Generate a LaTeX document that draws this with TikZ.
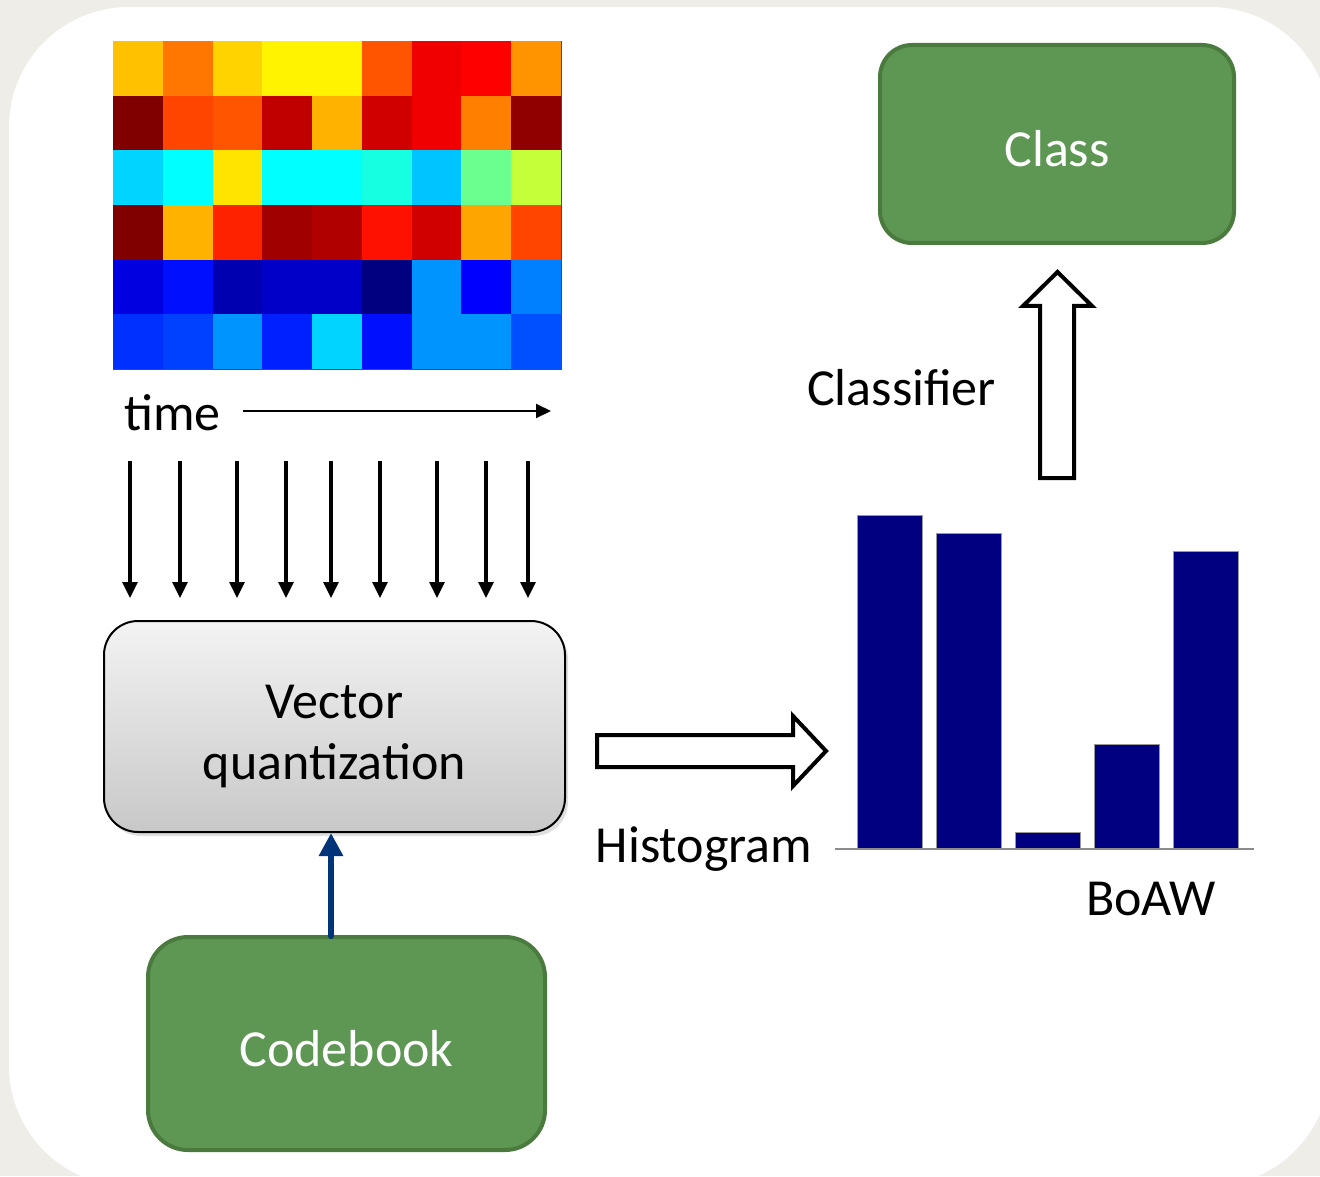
\documentclass[tikz,border=0pt]{standalone}
\usepackage{fontspec}
\setmainfont{Carlito}
\usetikzlibrary{arrows.meta,shadows}
\definecolor{bgc}{HTML}{EFEDE7}
\definecolor{boxgreen}{HTML}{5E9654}
\definecolor{boxedge}{HTML}{4A7A3E}
\definecolor{vqtop}{HTML}{F3F3F3}
\definecolor{vqbot}{HTML}{C8C8C8}
\definecolor{navybar}{HTML}{000080}
\definecolor{arrowblue}{HTML}{003478}
\begin{document}
\begin{tikzpicture}[x=0.5pt,y=-0.5pt, font=\fontsize{26}{30.5}\selectfont,
  greenbox/.style={draw=boxedge, fill=boxgreen, line width=2pt, rounded corners=16pt, text=white, text height=22.8pt, text depth=0pt, inner sep=0pt},
  downarr/.style={line width=1.6pt, -{Triangle[length=8pt,width=7.5pt]}},
  hollow/.style={draw=black, fill=white, line width=2pt, line join=miter},
  histbar/.style={fill=navybar, draw=gray!80, line width=0.4pt}]
\useasboundingbox (0,0) rectangle (1320,1176);
\fill[bgc] (0,0) rectangle (1320,1176);
\fill[white, rounded corners=60pt] (9,7) rectangle (1330,1186);

% heat map
\foreach \hx [count=\i from 0] in {FFC100,FF7600,FFD300,FFF300,FFF300,FF5400,F00000,FF0000,FF9400}
  {\definecolor{cell}{HTML}{\hx}\fill[cell] ({113+\i*49.78},41) rectangle ++(50.2,55.1);}
\foreach \hx [count=\i from 0] in {800000,FF4500,FF5500,C00000,FFB300,D00000,F00000,FF8000,900000}
  {\definecolor{cell}{HTML}{\hx}\fill[cell] ({113+\i*49.78},95.67) rectangle ++(50.2,55.1);}
\foreach \hx [count=\i from 0] in {00D4FF,00FFFF,FFE400,00FFFF,00FFFF,16FFE0,00C4FF,6AFF8E,C4FF3A}
  {\definecolor{cell}{HTML}{\hx}\fill[cell] ({113+\i*49.78},150.33) rectangle ++(50.2,55.1);}
\foreach \hx [count=\i from 0] in {800000,FFB300,FF2200,A00000,B00000,FF1100,D00000,FFA500,FF4500}
  {\definecolor{cell}{HTML}{\hx}\fill[cell] ({113+\i*49.78},205) rectangle ++(50.2,55.1);}
\foreach \hx [count=\i from 0] in {0000E0,0010FF,0000B0,0000C8,0000C8,000080,0094FF,0000FF,0080FF}
  {\definecolor{cell}{HTML}{\hx}\fill[cell] ({113+\i*49.78},259.67) rectangle ++(50.2,55.1);}
\foreach \hx [count=\i from 0] in {0030FF,0040FF,0094FF,0020FF,00D4FF,0010FF,0094FF,0094FF,0050FF}
  {\definecolor{cell}{HTML}{\hx}\fill[cell] ({113+\i*49.78},314.33) rectangle ++(49.78,54.67);}
\draw[gray!60!black, line width=0.6pt] (561.5,41) -- (561.5,369.5) -- (113,369.5);

% time label and arrow
\node[anchor=base, inner sep=0pt] (timelbl) at (172.5,430) {time};
\coordinate (t0) at (243,411);
\coordinate (t1) at (551,411);
\draw[line width=1pt, -{Triangle[length=7.5pt,width=7pt]}] (t0) -- (t1);

% frame arrows
\foreach \ax in {130,180,237,286,331,380,437,486,528}
  {\draw[downarr] (\ax,461) -- (\ax,598);}

% vector quantization
\node[draw=black, line width=1pt, rounded corners=17pt, top color=vqtop, bottom color=vqbot,
  minimum width=230.5pt, minimum height=105.5pt, align=center,
  drop shadow={shadow xshift=1.5pt, shadow yshift=-2pt, opacity=0.25}] (vq) at (334.5,726.5) {\rule{0pt}{27pt}Vector\\quantization};

% codebook
\node[greenbox, minimum width=198.5pt, minimum height=106.5pt, rounded corners=20pt] (cb) at (346.5,1043.5) {Codebook};
\coordinate (ba) at (331,936);
\draw[line width=3pt, draw=arrowblue, line cap=round, -{Triangle[length=11.5pt,width=11.5pt]}] (ba) -- (ba |- vq.south);

% histogram arrow
\draw[hollow] (597,735) -- (793,735) -- (793,716) -- (826,751) -- (793,786) -- (793,767) -- (597,767) -- cycle;
\node[anchor=base, inner sep=0pt] (hist) at (704,862) {Histogram};

% bars
\fill[histbar] (857,515) rectangle (922,849);
\fill[histbar] (936,533) rectangle (1001,849);
\fill[histbar] (1015,832) rectangle (1080,849);
\fill[histbar] (1094,744) rectangle (1159,849);
\fill[histbar] (1173,551) rectangle (1238,849);
\draw[histbar] (857,515) rectangle (922,849);
\draw[histbar] (936,533) rectangle (1001,849);
\draw[histbar] (1015,832) rectangle (1080,849);
\draw[histbar] (1094,744) rectangle (1159,849);
\draw[histbar] (1173,551) rectangle (1238,849);
\draw[gray!90, line width=0.8pt] (835,849) -- (1254,849);
\node[anchor=base, inner sep=0pt] (boaw) at (1151,915) {BoAW};

% classifier
\draw[hollow] (1040,478) -- (1040,306) -- (1023,306) -- (1057.5,272) -- (1092,306) -- (1074,306) -- (1074,478) -- cycle;
\node[anchor=base, inner sep=0pt] (clf) at (901.5,405) {Classifier};
\node[greenbox, minimum width=177pt, minimum height=99pt] (cls) at (1057,144) {Class};
\end{tikzpicture}
\end{document}
